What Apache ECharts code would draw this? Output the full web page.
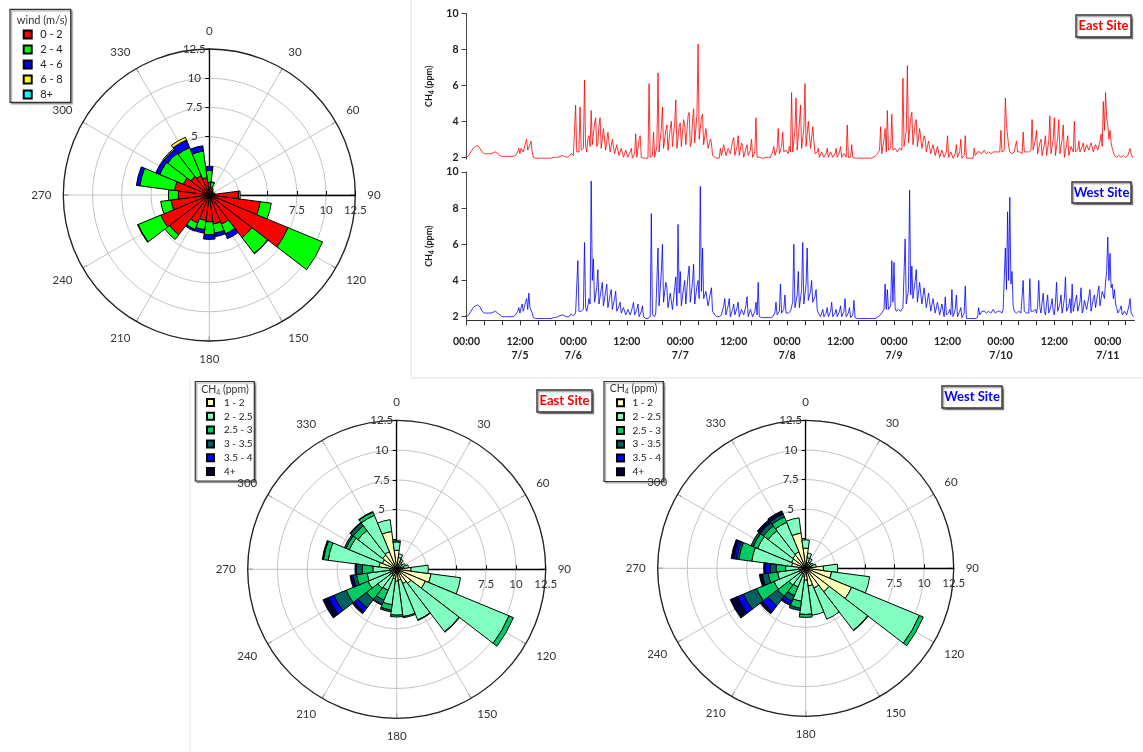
<!DOCTYPE html>
<html><head><meta charset="utf-8">
<script src="https://cdn.jsdelivr.net/npm/echarts@6/dist/echarts.min.js"></script>
<style>html,body{margin:0;padding:0;background:#fff}#c{width:1143px;height:752px}</style>
</head><body><div id="c"></div>
<script>
// ---------- data ----------
const dirBins = [0,15,30,45,60,75,90,105,120,135,150,165,180,195,210,225,240,255,270,285,300,315,330,345];

const windClasses = ['0 - 2','2 - 4','4 - 6','6 - 8','8+'];
const wind0_2 = [1.1,0.7,0.5,0.4,0.35,0.5,2.5,4.4,7.3,4.6,2.7,2.5,2.3,2.2,2.6,4.3,4.5,3.3,2.65,3.0,2.4,2.0,1.8,1.5];
const wind2_4 = [1.0,0.4,0.1,0.05,0,0,0.15,0.95,3.2,1.7,0.9,0.8,1.1,0.8,0.6,0.5,2.1,0.9,0.85,3.0,2.2,2.5,2.6,2.3];
const wind4_6 = [0.35,0.05,0,0,0,0,0,0,0,0.05,0.45,0.3,0.4,0.3,0.15,0,0.05,0,0,0.3,0.35,0.4,0.7,0.45];
const wind6_8 = [0,0,0,0,0,0,0,0,0,0,0,0,0,0,0,0,0,0,0,0,0,0.1,0.25,0];
const wind8p  = [0,0,0,0,0,0,0,0,0,0,0,0,0,0,0,0,0,0,0,0,0,0,0,0];

const ch4Classes = ['1 - 2','2 - 2.5','2.5 - 3','3 - 3.5','3.5 - 4','4+'];
const eastC1 = [1.6,1.0,0.7,0.4,0.4,0.6,1.2,2.9,2.6,1.5,1.3,0.9,1.0,0.8,0.6,0.5,0.6,0.5,0.6,1.5,1.3,1.5,1.6,3.2];
const eastC2 = [0.7,0.3,0.2,0.2,0.4,0.4,1.45,2.5,7.6,5.1,3.3,3.1,2.85,2.2,1.3,1.5,2.0,2.0,1.4,4.3,3.0,2.6,3.3,1.0];
const eastC3 = [0.1,0,0,0,0,0,0,0,0.4,0.05,0.05,0.1,0.15,0.45,0.9,1.2,2.0,0.9,0.9,0.4,0.3,0.5,0.3,0];
const eastC4 = [0,0,0,0,0,0,0,0,0,0,0,0,0,0.15,0.4,0.9,1.1,0.3,0.5,0.05,0.15,0.3,0.05,0];
const eastC5 = [0,0,0,0,0,0,0,0,0,0,0,0,0,0,0.05,0.4,0.5,0.15,0,0,0,0,0,0];
const eastC6 = [0,0,0,0,0,0,0,0,0,0,0,0,0,0,0,0.2,0.5,0.1,0.1,0.05,0,0.05,0,0];

const westC1 = [1.7,0.9,0.6,0.4,0.4,0.5,1.5,2.2,4.2,2.5,1.8,1.5,1.0,0.7,0.5,0.5,0.6,0.5,0.6,1.2,1.3,1.4,1.5,3.0];
const westC2 = [0.7,0.4,0.3,0.2,0.3,0.4,1.2,3.25,6.2,4.1,2.85,2.5,2.9,2.1,1.2,1.3,2.3,1.9,1.1,3.4,3.1,2.6,2.7,1.3];
const westC3 = [0,0,0,0,0,0,0,0,0.35,0.05,0,0,0.25,0.6,0.8,1.2,1.6,0.8,0.8,1.1,0.4,0.5,0.5,0];
const westC4 = [0,0,0,0,0,0,0,0,0,0,0,0,0,0.2,0.5,1.0,1.2,0.5,0.5,0.2,0.2,0.35,0.25,0];
const westC5 = [0,0,0,0,0,0,0,0,0,0,0,0,0,0,0.3,0.6,0.55,0.1,0.4,0.25,0,0.1,0,0];
const westC6 = [0,0,0,0,0,0,0,0,0,0,0,0,0,0,0.1,0.25,0.65,0.15,0.15,0.2,0,0.2,0.3,0];

const vertRadiusLabels = [5,7.5,10,12.5];
const horizRadiusLabels = [7.5,10,12.5];

// CH4 time series, one value every 0.25 h starting 7/5 00:00 (one row = 12 h)
const TIME_STEP = 0.25;
const eastCH4 = [
2.0,2.05,2.1,2.2,2.3,2.4,2.5,2.55,2.6,2.62,2.65,2.6,2.5,2.4,2.3,2.25,2.2,2.2,2.2,2.2,2.2,2.2,2.2,2.22,2.25,2.28,2.3,2.25,2.2,2.15,2.1,2.07,2.05,2.05,2.05,2.05,2.05,2.05,2.05,2.05,2.05,2.05,2.05,2.05,2.1,2.2,2.3,2.5,
2.2,2.5,2.6,2.3,2.3,2.8,3.0,2.4,2.4,2.7,2.9,2.3,2.0,1.97,1.95,1.95,1.95,1.95,1.95,1.95,1.95,1.95,1.95,1.95,1.95,1.95,1.95,1.95,1.95,1.97,2.0,2.0,2.0,2.0,2.0,2.02,2.05,2.08,2.1,2.08,2.05,2.02,2.0,2.02,2.05,2.1,2.2,2.15,
2.1,2.2,4.9,2.3,2.2,2.3,4.8,2.4,2.3,2.5,6.3,2.6,2.3,3.0,3.2,2.6,4.6,2.7,2.6,3.9,4.2,2.6,2.8,3.8,4.2,2.5,2.6,3.6,3.5,2.4,2.5,3.4,3.3,2.3,2.3,3.0,2.9,2.2,2.2,2.7,2.6,2.1,2.1,2.5,2.5,2.0,2.0,2.4,
2.4,2.0,2.0,2.3,2.5,1.95,1.95,2.2,3.3,2.0,2.1,3.0,3.2,2.0,2.0,1.95,1.95,1.95,1.95,1.95,6.1,2.0,2.0,2.1,3.4,2.0,2.1,2.6,6.7,2.3,2.4,3.6,4.8,2.5,2.6,3.5,3.8,2.4,2.5,3.6,4.0,2.6,2.5,3.9,5.2,2.5,2.6,3.7,
3.9,2.6,2.7,4.1,3.8,2.7,2.6,4.3,4.5,2.6,2.8,4.0,4.7,2.8,2.9,4.4,8.3,3.0,3.1,4.2,4.4,2.7,2.8,3.6,3.5,2.5,2.6,3.0,2.8,2.1,2.1,2.0,2.0,1.95,1.95,1.95,2.5,2.1,2.2,2.7,2.8,2.1,2.2,2.5,2.6,2.2,2.1,2.9,
3.1,2.1,2.2,2.6,3.2,2.1,2.2,2.8,2.6,2.0,2.1,2.5,2.7,2.1,2.0,2.4,3.0,2.0,2.1,2.3,4.2,2.0,2.0,2.0,2.0,1.95,1.95,1.95,2.0,2.0,2.0,2.0,2.1,2.0,2.0,2.3,2.6,2.1,2.2,2.5,3.6,2.2,2.3,2.6,3.4,2.3,2.2,2.4,
2.3,2.2,2.6,2.3,5.6,2.3,2.4,3.5,5.3,2.4,2.5,3.9,4.9,2.5,2.6,3.6,6.1,2.6,2.7,4.0,4.0,2.5,2.6,3.7,3.8,2.2,2.1,2.3,2.5,2.0,2.0,2.3,2.4,2.0,2.0,2.2,2.5,2.0,2.0,2.3,2.4,2.0,2.0,2.2,2.5,2.0,2.0,2.3,
2.6,2.0,2.0,2.2,2.3,2.0,3.8,2.0,2.0,2.0,2.7,2.0,1.95,1.95,1.95,1.95,1.95,1.95,1.95,1.95,1.95,1.95,1.95,1.95,1.95,1.95,1.95,1.95,2.0,2.0,2.0,2.05,2.1,2.2,2.3,2.4,3.7,2.2,2.3,3.0,3.6,2.3,4.6,2.4,2.3,2.5,4.4,2.4,
2.3,2.5,2.4,2.3,2.3,2.5,2.5,2.4,6.4,2.6,2.7,3.5,7.1,2.8,2.9,4.2,4.5,2.7,2.8,3.9,4.1,2.6,2.7,3.6,3.5,2.5,2.6,3.2,3.0,2.3,2.4,2.9,2.8,2.2,2.3,2.7,2.6,2.1,2.2,2.6,2.5,2.0,2.1,2.4,2.4,2.0,2.0,2.3,
3.2,2.0,2.1,2.3,2.4,1.95,2.0,2.2,2.7,2.0,2.1,2.3,3.0,1.95,2.0,2.1,3.2,1.95,1.95,1.95,1.95,1.95,1.95,1.95,2.5,2.1,2.2,2.3,2.2,2.3,2.4,2.2,2.2,2.4,2.3,2.2,2.2,2.3,2.4,2.2,2.2,2.3,2.2,2.3,2.2,2.3,2.4,2.3,
3.5,2.3,2.3,2.4,5.3,3.8,3.8,2.6,2.3,2.2,2.2,2.3,2.3,2.2,2.9,2.3,2.2,2.3,2.3,2.2,3.4,2.3,2.2,2.3,2.2,2.3,2.3,2.4,4.1,2.4,2.5,3.0,3.5,2.2,2.3,2.8,3.0,2.1,2.2,2.7,3.2,2.1,2.2,2.9,4.3,2.2,2.3,3.0,
4.2,2.1,2.2,3.1,4.1,2.2,2.1,3.0,3.8,2.0,2.1,2.7,3.2,2.1,2.2,2.6,2.7,2.3,4.0,2.3,2.2,2.4,2.9,2.3,2.4,2.6,2.8,2.3,2.4,2.7,2.8,2.4,2.5,2.8,2.7,2.3,2.4,2.7,2.8,2.4,2.5,2.9,3.3,2.6,5.1,3.5,5.6,4.2,
3.8,3.0,3.5,2.8,2.5,2.3,2.1,2.0,2.0,2.1,2.1,2.0,2.0,2.1,2.1,2.0,2.0,2.1,2.1,2.0,2.5,2.2,2.0,2.0
];
const westCH4 = [
2.0,2.05,2.1,2.2,2.3,2.4,2.5,2.55,2.6,2.62,2.65,2.6,2.55,2.45,2.3,2.25,2.2,2.2,2.2,2.2,2.2,2.2,2.2,2.22,2.25,2.28,2.3,2.25,2.2,2.15,2.1,2.05,2.0,2.0,2.0,2.0,2.0,2.0,2.0,2.0,2.0,2.0,2.0,2.0,2.1,2.2,2.3,2.5,
2.2,2.5,2.7,2.3,2.4,2.8,3.0,2.4,3.3,2.5,2.6,2.2,1.95,1.92,1.9,1.9,1.9,1.9,1.9,1.9,1.9,1.9,1.9,1.9,1.9,1.9,1.9,1.9,1.9,1.92,1.95,1.95,1.95,1.97,2.0,2.0,2.05,2.08,2.1,2.08,2.05,2.02,2.0,2.0,2.0,2.05,2.15,2.1,
2.05,2.1,2.2,2.3,5.1,2.3,2.2,2.3,2.3,2.4,6.1,2.5,2.3,2.6,3.0,2.7,9.5,4.0,5.2,2.8,2.7,3.6,4.6,2.7,2.6,3.5,3.9,2.6,2.5,3.4,3.8,2.5,2.4,3.2,3.5,2.4,2.3,3.0,3.4,2.3,2.2,2.6,2.8,2.2,2.1,2.5,2.6,2.1,
2.1,2.4,2.5,2.1,2.0,2.5,2.8,2.1,2.1,2.4,2.7,2.0,2.0,2.3,2.6,2.0,1.95,1.9,1.9,1.9,1.9,2.0,7.7,2.1,2.0,2.0,2.2,2.1,5.8,2.6,2.7,4.5,6.0,2.8,2.7,3.9,3.6,2.5,2.6,3.3,3.4,2.4,2.5,3.6,4.2,2.6,7.1,3.3,
4.5,2.6,2.7,3.6,4.0,2.7,2.6,4.3,4.8,2.8,2.9,3.9,4.9,2.7,2.8,3.7,4.0,3.0,9.2,3.4,5.8,3.0,2.9,3.4,3.5,2.6,2.7,3.3,3.6,2.3,2.2,2.1,2.1,2.0,2.0,2.0,2.0,2.1,2.1,2.6,3.0,2.1,2.2,2.6,3.0,2.0,2.1,2.4,
2.7,2.1,2.0,2.5,2.8,2.0,2.1,2.4,2.5,2.1,2.0,2.6,3.1,2.0,2.1,2.4,2.5,2.0,2.1,2.3,2.8,2.1,3.9,2.0,2.0,1.95,1.95,1.95,1.95,1.95,1.95,1.95,2.0,1.95,1.95,2.0,2.0,2.2,2.8,2.1,2.1,2.3,3.8,2.2,2.2,2.4,3.2,2.2,
2.1,2.2,2.3,2.3,2.4,2.8,6.0,2.5,2.4,3.2,4.5,2.5,2.6,3.5,6.1,2.7,2.7,3.8,5.8,2.9,3.0,3.4,4.0,2.8,2.8,3.1,3.5,2.4,2.2,2.1,2.0,2.1,2.4,2.0,1.95,2.2,2.5,2.0,2.0,2.3,2.8,2.0,1.95,2.2,2.4,2.0,2.0,2.3,
2.6,2.0,2.0,2.3,3.0,2.0,2.0,2.2,2.5,1.95,1.95,2.1,2.9,1.95,1.95,1.9,1.9,1.9,1.9,1.9,1.9,1.9,1.9,1.9,1.9,1.9,1.9,1.9,1.9,1.9,1.9,1.9,1.95,1.97,2.0,2.05,2.1,2.2,2.3,2.4,3.8,2.4,3.5,2.4,2.4,2.6,5.1,2.8,
5.0,2.5,2.3,2.4,2.4,2.3,2.3,2.4,2.5,2.6,6.3,2.7,2.8,3.5,9.0,3.2,4.8,3.0,3.0,4.0,4.6,2.8,2.8,3.9,3.8,2.7,2.7,3.6,3.5,2.5,2.5,3.3,3.2,2.3,2.3,3.0,3.0,2.2,2.2,2.8,2.8,2.1,2.1,2.7,2.6,2.0,3.1,2.1,
2.0,2.2,2.4,2.1,3.5,2.0,2.1,2.4,3.2,2.0,2.1,2.3,2.5,1.95,2.0,2.2,3.7,1.9,1.9,1.9,1.9,1.9,1.9,1.9,1.9,1.9,1.9,1.95,2.5,2.1,2.1,2.3,2.2,2.3,2.3,2.2,2.2,2.3,2.3,2.2,2.2,2.4,2.3,2.2,2.2,2.3,2.3,2.3,
2.3,2.2,2.4,2.3,5.8,3.5,7.8,4.0,8.6,3.8,4.5,2.6,2.3,2.2,2.2,2.3,2.3,2.2,2.2,2.3,4.0,2.3,2.2,2.2,2.3,2.2,4.1,2.3,2.2,2.3,2.3,2.4,2.2,2.6,4.0,2.5,2.2,2.8,3.3,2.3,2.1,2.7,3.2,2.2,2.2,2.6,3.0,2.3,
2.1,2.8,3.9,2.3,2.2,2.7,3.2,2.2,2.1,3.0,4.2,2.3,2.2,2.6,3.0,2.2,3.8,2.3,2.2,2.9,3.2,2.3,2.4,2.8,3.6,2.2,2.4,2.9,3.0,2.4,2.3,3.1,3.5,2.3,2.4,3.0,3.2,2.5,2.4,3.3,3.7,2.6,2.7,3.4,3.4,3.0,3.9,4.5,
6.4,4.0,5.5,3.6,3.8,3.0,3.5,2.7,2.5,2.2,2.1,2.4,2.6,2.1,2.2,2.3,2.4,2.1,2.2,2.6,3.0,2.2,2.2,2.0
];

const yTicks = [2,4,6,8,10];
const timeTicks  = [0,12,24,36,48,60,72,84,96,108,120,132,144];
const timeLabels = ['00:00','12:00','00:00','12:00','00:00','12:00','00:00','12:00','00:00','12:00','00:00','12:00','00:00'];
const dateLabels = ['','7/5','7/6','','7/7','','7/8','','7/9','','7/10','','7/11'];

// ---------- styles ----------
const FONT = 'Lato, "DejaVu Sans", sans-serif';
const windColors = ['#ff0000','#00ff00','#0000ff','#ffff00','#00ffff'];
const ch4Colors = ['#ffffb8','#80ffc0','#00cc66','#006060','#0000ff','#000033'];

const polar = [], angleAxis = [], radiusAxis = [], series = [];

function addRose(center, radius) {
  const pi = polar.length;
  polar.push({center, radius}, {center, radius}, {center, radius});
  angleAxis.push(
    {polarIndex: pi, type: 'category', data: dirBins, startAngle: 97.5, clockwise: true, show: false},
    {polarIndex: pi + 1, type: 'value', min: 0, max: 360, interval: 30, startAngle: 90, clockwise: true, z: 1,
     axisLine: {show: true, lineStyle: {color: '#222', width: 1.3}},
     axisTick: {show: true, inside: true, length: 5, lineStyle: {color: '#222', width: 1}},
     axisLabel: {show: true, margin: 12, color: '#333', fontSize: 11.5, fontFamily: FONT,
                 formatter: v => (v === 360 ? '' : String(v))},
     splitLine: {show: true, lineStyle: {color: '#c4c4c4', width: 1}}},
    {polarIndex: pi + 2, type: 'value', min: 0, max: 360, startAngle: 0, show: false}
  );
  radiusAxis.push(
    {polarIndex: pi, type: 'value', min: 0, max: 12.5, interval: 2.5, z: 0,
     axisLine: {show: false}, axisTick: {show: false}, axisLabel: {show: false},
     splitLine: {show: true, lineStyle: {color: '#c4c4c4', width: 1}}},
    {polarIndex: pi + 1, type: 'value', min: 0, max: 12.5, interval: 2.5, z: 2,
     axisLine: {show: true, lineStyle: {color: '#000', width: 1.3}},
     axisTick: {show: true, length: 4, lineStyle: {color: '#000'}},
     axisLabel: {show: true, margin: 15, align: 'center', verticalAlign: 'middle', color: '#333', fontSize: 11.5, fontFamily: FONT,
                 formatter: v => (vertRadiusLabels.includes(v) ? String(v) : '')},
     splitLine: {show: false}},
    {polarIndex: pi + 2, type: 'value', min: 0, max: 12.5, interval: 2.5, z: 2,
     axisLine: {show: true, lineStyle: {color: '#000', width: 1.3}},
     axisTick: {show: true, length: 4, lineStyle: {color: '#000'}},
     axisLabel: {show: true, margin: -15, align: 'center', verticalAlign: 'middle', color: '#333', fontSize: 11.5, fontFamily: FONT,
                 formatter: v => (horizRadiusLabels.includes(v) ? String(v) : '')},
     splitLine: {show: false}}
  );
  return pi;
}

function roseSeries(pi, names, arrays, colors) {
  arrays.forEach((arr, k) => {
    series.push({
      type: 'bar', coordinateSystem: 'polar', polarIndex: pi, name: names[k], stack: 'rose' + pi,
      data: arr.map(v => (v === 0 ? null : v)), barCategoryGap: '0%', z: 3, silent: true,
      itemStyle: {color: colors[k], borderColor: '#000', borderWidth: 1}
    });
  });
}

const pWind = addRose([209.3, 195], 146);
const pEast = addRose([396.7, 569.3], 149);
const pWest = addRose([805.7, 568.3], 148);
roseSeries(pWind, windClasses, [wind0_2, wind2_4, wind4_6, wind6_8, wind8p], windColors);
roseSeries(pEast, ch4Classes, [eastC1, eastC2, eastC3, eastC4, eastC5, eastC6], ch4Colors);
roseSeries(pWest, ch4Classes, [westC1, westC2, westC3, westC4, westC5, westC6], ch4Colors);

series.push(
  {type: 'line', name: 'East', xAxisIndex: 0, yAxisIndex: 0, data: eastCH4.map((v, i) => [i * TIME_STEP, v]),
   showSymbol: false, symbol: 'none', lineStyle: {color: '#ff0000', width: 0.8}, itemStyle: {color: '#ff0000'}, silent: true},
  {type: 'line', name: 'West', xAxisIndex: 1, yAxisIndex: 1, data: westCH4.map((v, i) => [i * TIME_STEP, v]),
   showSymbol: false, symbol: 'none', lineStyle: {color: '#0000ff', width: 0.8}, itemStyle: {color: '#0000ff'}, silent: true}
);

function yAxisDef(grid, min) {
  return {
    gridIndex: grid, type: 'value', min: min, max: 10,
    axisLine: {show: true, lineStyle: {color: '#444', width: 1}},
    axisTick: {show: true, length: 5, customValues: yTicks, lineStyle: {color: '#444'}},
    axisLabel: {customValues: yTicks, margin: 8, fontSize: 10.5, fontWeight: 'bold', color: '#222', fontFamily: FONT},
    splitLine: {show: false},
    name: '{a|CH}{s|4}{a| (ppm)}', nameLocation: 'middle', nameGap: 27, nameRotate: 90,
    nameTextStyle: {color: '#222', fontFamily: FONT, rich: {
      a: {fontSize: 9, fontWeight: 'bold', color: '#222', fontFamily: FONT, lineHeight: 12},
      s: {fontSize: 6.5, fontWeight: 'bold', color: '#222', fontFamily: FONT, verticalAlign: 'bottom', lineHeight: 10}}}
  };
}

const legendText = (fs, pad) => ({fontSize: fs, lineHeight: fs, color: '#222', fontFamily: FONT, padding: [0, 0, 0, pad]});

function boxRect(x, y, w, h, strokeW) {
  return {type: 'rect', shape: {x, y, width: w, height: h}, z: 1,
    style: {fill: '#fff', stroke: '#333', lineWidth: strokeW, shadowColor: 'rgba(0,0,0,0.35)', shadowOffsetX: 1.5, shadowOffsetY: 1.5, shadowBlur: 1}};
}
function siteLabel(x, y, w, h, text, color) {
  return [boxRect(x, y, w, h, 1.4),
    {type: 'text', x: x + w / 2, y: y + h / 2, z: 2,
     style: {text, fill: color, font: 'bold 13px ' + FONT, align: 'center', verticalAlign: 'middle'}}];
}
const ch4Title = (x, y) => ({type: 'text', x, y, z: 2, style: {
  text: '{a|CH}{s|4}{a| (ppm)}', align: 'center', verticalAlign: 'middle',
  rich: {a: {fontSize: 10.5, fill: '#333', fontFamily: FONT, lineHeight: 13},
         s: {fontSize: 7, fill: '#333', fontFamily: FONT, verticalAlign: 'bottom', lineHeight: 10}}}});

const option = {
  animation: false,
  backgroundColor: '#fff',
  polar, angleAxis, radiusAxis,
  grid: [
    {left: 466.5, top: 13.5, width: 668, height: 145.6},
    {left: 466.5, top: 172, width: 668, height: 148.3}
  ],
  xAxis: [
    {gridIndex: 0, type: 'value', min: 0, max: 150, show: false},
    {gridIndex: 1, type: 'value', min: 0, max: 150, interval: 4,
     axisLine: {show: true, onZero: false, lineStyle: {color: '#333', width: 1}},
     axisTick: {show: true, length: 5, lineStyle: {color: '#333'}},
     axisLabel: {margin: 14, fontSize: 10.5, lineHeight: 14, fontWeight: 'bold', color: '#222', fontFamily: FONT,
                 showMaxLabel: false, showMinLabel: true,
                 formatter: v => {
                   const i = timeTicks.indexOf(v);
                   if (i < 0) return '';
                   return dateLabels[i] ? timeLabels[i] + '\n' + dateLabels[i] : timeLabels[i];
                 }},
     splitLine: {show: false}}
  ],
  yAxis: [yAxisDef(0, 1.9), yAxisDef(1, 1.8)],
  legend: [
    {data: windClasses, orient: 'vertical', left: 22.7, top: 29, padding: 0, itemWidth: 8, itemHeight: 8, itemGap: 4,
     icon: 'rect', selectedMode: false, textStyle: legendText(11, 3.5), z: 5},
    {data: ch4Classes, orient: 'vertical', left: 206, top: 397.5, padding: 0, itemWidth: 7, itemHeight: 7, itemGap: 3.8,
     icon: 'rect', selectedMode: false, textStyle: legendText(10, 5), z: 5},
    {data: ch4Classes, orient: 'vertical', left: 616, top: 397.8, padding: 0, itemWidth: 7, itemHeight: 7, itemGap: 3.8,
     icon: 'rect', selectedMode: false, textStyle: legendText(10, 3.5), z: 5}
  ],
  graphic: [
    {type: 'line', shape: {x1: 411, y1: 0, x2: 411, y2: 378}, style: {stroke: '#e2e2e2', lineWidth: 1}, z: 0},
    {type: 'line', shape: {x1: 411, y1: 378, x2: 1143, y2: 378}, style: {stroke: '#e2e2e2', lineWidth: 1}, z: 0},
    {type: 'line', shape: {x1: 190, y1: 378, x2: 190, y2: 752}, style: {stroke: '#e8e8e8', lineWidth: 1}, z: 0},
    boxRect(10, 9.3, 60.7, 93, 1.2),
    {type: 'text', x: 42, y: 20, z: 2, style: {text: 'wind (m/s)', fill: '#333', font: '11px ' + FONT, align: 'center', verticalAlign: 'middle'}},
    boxRect(195.3, 381.5, 59, 99.5, 1.2),
    ch4Title(225, 389.5),
    boxRect(604, 381.5, 59.3, 100, 1.2),
    ch4Title(633.5, 388.5),
    ...siteLabel(1076, 15, 55, 22, 'East Site', '#ff0000'),
    ...siteLabel(1072, 182, 59, 21, 'West Site', '#0000ff'),
    ...siteLabel(537, 390, 55, 22, 'East Site', '#ff0000'),
    ...siteLabel(942, 386, 60, 22, 'West Site', '#0000ff')
  ],
  series
};

const chart = echarts.init(document.getElementById('c'), null, {renderer: 'canvas'});
chart.setOption(option);
</script>
</body></html>
